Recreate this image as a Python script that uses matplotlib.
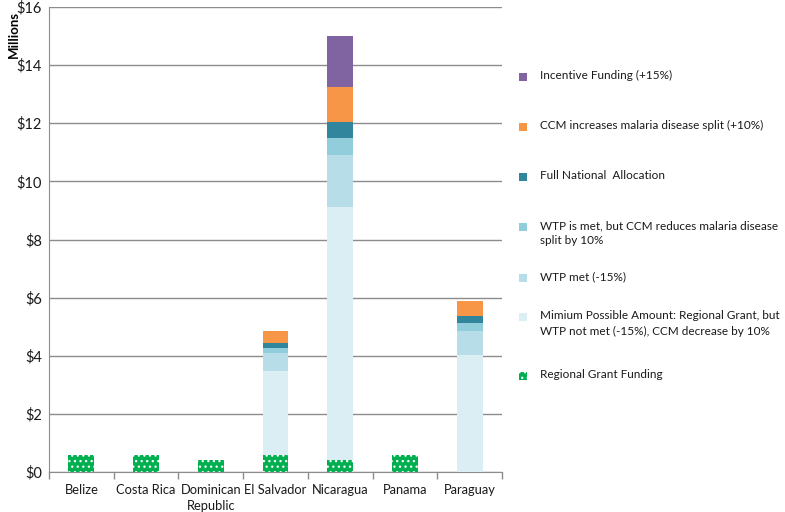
import matplotlib
matplotlib.use("Agg")
import matplotlib.pyplot as plt
import numpy as np
from matplotlib.patches import Rectangle

plt.rcParams['font.family'] = ['Lato', 'DejaVu Sans']
plt.rcParams['hatch.color'] = 'white'
plt.rcParams['hatch.linewidth'] = 0.9

countries = ["Belize", "Costa Rica", "Dominican\nRepublic", "El Salvador", "Nicaragua", "Panama", "Paraguay"]
regional = [0.6, 0.6, 0.4, 0.6, 0.4, 0.6, 0.0]
# cumulative tops for the national allocation scenarios
minimum_top = [0, 0, 0, 3.49, 9.13, 0, 4.03]
wtp_met_top = [0, 0, 0, 4.08, 10.91, 0, 4.85]
wtp_is_met_top = [0, 0, 0, 4.26, 11.48, 0, 5.12]
full_nat_top = [0, 0, 0, 4.45, 12.06, 0, 5.37]
ccm_inc_top = [0, 0, 0, 4.84, 13.24, 0, 5.89]
incentive_top = [0, 0, 0, 4.84, 15.0, 0, 5.89]

labels = ["Incentive Funding (+15%)",
          "CCM increases malaria disease split (+10%)",
          "Full National  Allocation",
          "WTP is met, but CCM reduces malaria disease\nsplit by 10%",
          "WTP met (-15%)",
          "Mimium Possible Amount: Regional Grant, but\nWTP not met (-15%), CCM decrease by 10%",
          "Regional Grant Funding"]
colors = ["#8064A2", "#F79646", "#31859C", "#92CDDC", "#B7DEE8", "#DAEEF3", "#00B050"]
legend_y_px = [77, 127, 177, 227, 278, 317, 376]

W, H = 785, 512
fig = plt.figure(figsize=(W / 100, H / 100), dpi=100)
ax = fig.add_axes([49 / W, 1 - 472 / H, (502 - 49) / W, (472 - 7) / H])
x = np.arange(len(countries))
w = 0.4

reg = np.array(regional)
tops = [np.array(minimum_top), np.array(wtp_met_top), np.array(wtp_is_met_top),
        np.array(full_nat_top), np.array(ccm_inc_top), np.array(incentive_top)]
seg_colors = ["#DAEEF3", "#B7DEE8", "#92CDDC", "#31859C", "#F79646", "#8064A2"]
prev = reg.copy()
for t, c in zip(tops, seg_colors):
    h = np.where(t > 0, t - prev, 0)
    ax.bar(x, h, w, bottom=prev, color=c, linewidth=0, zorder=3)
    prev = np.where(t > 0, t, prev)

ax.bar(x, reg, w, color="#00B050", hatch="...", edgecolor="white", linewidth=0, zorder=3)

ax.set_ylim(0, 16)
ax.set_xlim(-0.5, len(countries) - 0.5)
ax.set_yticks(np.arange(0, 17, 2))
ax.set_yticklabels(["$%d" % v for v in range(0, 17, 2)], fontsize=10.5, color="#1a1a1a")
ax.yaxis.grid(True, color="#8c8c8c", linewidth=1, zorder=0)
ax.set_axisbelow(True)
ax.tick_params(axis='y', length=0, pad=5)
ax.set_xticks(x)
ax.set_xticklabels(countries, fontsize=9.3, linespacing=1.3, color="#1a1a1a")
ax.set_xticks(np.arange(-0.5, len(countries)), minor=True)
ax.tick_params(axis='x', which='major', length=0, pad=9)
ax.tick_params(axis='x', which='minor', length=5, color="#8c8c8c", width=1)
for s in ["top", "right"]:
    ax.spines[s].set_visible(False)
for s in ["left", "bottom"]:
    ax.spines[s].set_color("#8c8c8c")

fig.text(8 / W, 1 - 34 / H, "Millions", rotation=90, fontsize=9.5, fontweight="bold", ha="left", va="center")

# legend entries (right side)
for i, (lab, c, yp) in enumerate(zip(labels, colors, legend_y_px)):
    hatch = "..." if i == len(labels) - 1 else None
    fig.patches.append(Rectangle(((523 - 4) / W, 1 - (yp + 4) / H), 8 / W, 8 / H,
                                 transform=fig.transFigure, facecolor=c, hatch=hatch,
                                 edgecolor="white", linewidth=0))
    fig.text(540 / W, 1 - (yp - 7) / H, lab, fontsize=8.5, ha="left", va="top",
             linespacing=1.5, color="#1a1a1a")

fig.savefig("out.png", dpi=100)
